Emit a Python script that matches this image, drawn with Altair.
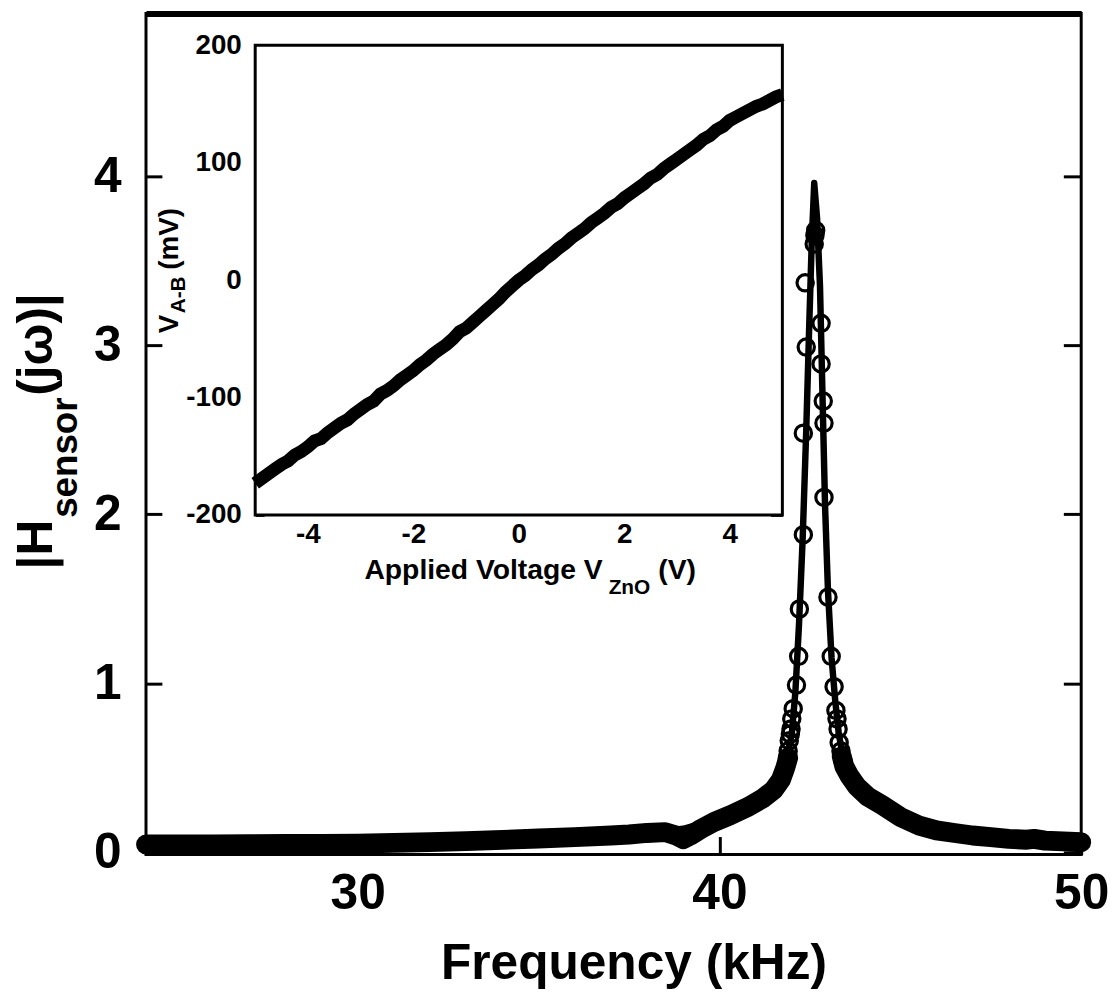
import altair as alt
import pandas as pd

# ---------------- data ----------------
# dense measured band, left of the resonance
band_left_f = [24.15, 25, 26, 27, 28, 29, 30, 31, 32, 33, 34, 35, 36, 37, 37.5,
               38.0, 38.5, 38.8, 39.0, 39.2, 39.5, 39.85, 40.3, 40.8, 41.2, 41.5,
               41.7, 41.82, 41.9]
band_left_h = [0.047, 0.047, 0.047, 0.048, 0.05, 0.05, 0.052, 0.056, 0.061, 0.067,
               0.074, 0.082, 0.09, 0.1, 0.106, 0.115, 0.12, 0.1, 0.078, 0.1, 0.14,
               0.18, 0.22, 0.27, 0.32, 0.37, 0.43, 0.5, 0.56]
# dense measured band, right of the resonance
band_right_f = [43.38, 43.45, 43.6, 43.8, 44.1, 44.5, 45.0, 45.5, 46.0, 46.5,
                47.0, 47.5, 48.0, 48.5, 48.7, 49.0, 49.5, 50.0]
band_right_h = [0.57, 0.51, 0.45, 0.39, 0.33, 0.28, 0.21, 0.16, 0.13, 0.115,
                0.1, 0.09, 0.08, 0.075, 0.08, 0.07, 0.065, 0.06]
# fitted curve
fit_f = [24.15, 26, 28, 30, 32, 34, 36, 38, 39, 40, 40.5, 41.0, 41.5, 41.8, 42.0,
         42.1, 42.2, 42.3, 42.4, 42.48, 42.55, 42.62, 42.7, 42.78, 42.86, 42.92,
         43.0, 43.1, 43.2, 43.3, 43.45, 43.7, 44.0, 44.5, 45, 46, 47, 48, 49, 50]
fit_h = [0.047, 0.047, 0.05, 0.052, 0.06, 0.074, 0.09, 0.115, 0.14, 0.2, 0.24, 0.3,
         0.38, 0.5, 0.7, 0.95, 1.35, 1.85, 2.5, 3.1, 3.6, 3.96, 3.75, 3.35, 2.6,
         2.05, 1.55, 1.15, 0.9, 0.7, 0.53, 0.42, 0.34, 0.27, 0.21, 0.13, 0.1,
         0.08, 0.068, 0.06]
# open-circle measurements near the peak
circ_f = [42.64, 42.62, 42.66, 42.37, 42.81, 42.40, 42.81, 42.87, 42.89, 42.32,
          42.89, 42.32, 43.00, 42.21, 43.09, 42.19, 42.13, 43.17, 43.22, 42.04,
          42.0, 41.98, 41.96, 41.93, 41.90, 41.88, 43.25, 43.28, 43.31, 43.36,
          43.42]
circ_h = [3.65, 3.6, 3.68, 3.37, 3.13, 2.99, 2.89, 2.67, 2.54, 2.48,
          2.10, 1.88, 1.51, 1.44, 1.16, 1.16, 0.99, 0.98, 0.84, 0.85,
          0.79, 0.73, 0.7, 0.66, 0.6, 0.56, 0.79, 0.73, 0.65, 0.6,
          0.54]

# inset: V_A-B (mV) against applied voltage (V)
inset_v = [-5.0, -4.875, -4.75, -4.625, -4.5, -4.375, -4.25, -4.125, -4.0, -3.875,
           -3.75, -3.625, -3.5, -3.375, -3.25, -3.125, -3.0, -2.875, -2.75, -2.625,
           -2.5, -2.375, -2.25, -2.125, -2.0, -1.875, -1.75, -1.625, -1.5, -1.375,
           -1.25, -1.125, -1.0, -0.875, -0.75, -0.625, -0.5, -0.375, -0.25, -0.125,
           0.0, 0.125, 0.25, 0.375, 0.5, 0.625, 0.75, 0.875, 1.0, 1.125,
           1.25, 1.375, 1.5, 1.625, 1.75, 1.875, 2.0, 2.125, 2.25, 2.375,
           2.5, 2.625, 2.75, 2.875, 3.0, 3.125, 3.25, 3.375, 3.5, 3.625,
           3.75, 3.875, 4.0, 4.125, 4.25, 4.375, 4.5, 4.625, 4.75, 4.875, 5.0]
inset_mv = [-173, -169, -165, -161, -157, -154, -149, -146, -142, -137,
            -135, -130, -126, -122, -119, -114, -110, -106, -103, -97,
            -94, -90, -85, -81, -77, -72, -68, -63, -59, -55,
            -50, -44, -41, -36, -31, -26, -21, -16, -10, -5,
            0, 4, 9, 13, 18, 22, 27, 31, 36, 40,
            44, 49, 53, 57, 62, 65, 70, 74, 78, 82,
            87, 90, 95, 99, 103, 107, 111, 115, 120, 123,
            128, 131, 136, 139, 142, 145, 148, 150, 153, 156, 158]

x_ticks = [30, 40, 50]
y_ticks = [0, 1, 2, 3, 4]
inset_x_ticks = [-4, -2, 0, 2, 4]
inset_y_ticks = [-200, -100, 0, 100, 200]

x_title = "Frequency (kHz)"
y_title_parts = ["|H", "sensor", "(jω)|"]
inset_x_title_parts = ["Applied Voltage V", "ZnO", "(V)"]
inset_y_title_parts = ["V", "A-B", "(mV)"]

# ---------------- layout ----------------
W, H = 942, 847
FONT = "Liberation Sans"

band_df = pd.DataFrame({
    "f": band_left_f + band_right_f,
    "h": band_left_h + band_right_h,
    "seg": ["L"] * len(band_left_f) + ["R"] * len(band_right_f),
})
fit_df = pd.DataFrame({"f": fit_f, "h": fit_h})
circ_df = pd.DataFrame({"f": circ_f, "h": circ_h})
inset_df = pd.DataFrame({"v": inset_v, "mv": inset_mv})
frame_df = pd.DataFrame({"v0": [-5], "v1": [5], "m0": [-200], "m1": [200]})

xs = alt.Scale(domain=[24.15, 50], nice=False, zero=False)
ys = alt.Scale(domain=[-0.012, 4.963], nice=False, zero=False)

lab = dict(labelFont=FONT, labelFontWeight="bold", labelColor="black",
           tickColor="black", grid=False, title=None, domain=False)

band = alt.Chart(band_df).mark_line(
    color="black", strokeWidth=20, strokeCap="round", strokeJoin="round"
).encode(
    x=alt.X("f:Q", scale=xs, axis=alt.Axis(
        orient="bottom", offset=-18, tickSize=18, tickWidth=3, values=x_ticks,
        labelFontSize=50, labelPadding=14, labelFlush=False, **lab)),
    y=alt.Y("h:Q", scale=ys, axis=alt.Axis(
        orient="left", offset=-16, tickSize=16, tickWidth=3, values=y_ticks,
        labelFontSize=50, labelPadding=25, **lab)),
    detail="seg:N",
)

fit = alt.Chart(fit_df).mark_line(
    color="black", strokeWidth=6.5, strokeJoin="round", strokeCap="round"
).encode(
    x=alt.X("f:Q", scale=xs, axis=alt.Axis(
        orient="top", ticks=False, labels=False, domain=True, domainWidth=6,
        domainColor="black", grid=False, title=None)),
    y=alt.Y("h:Q", scale=ys, axis=alt.Axis(
        orient="right", offset=-18, tickSize=18, tickWidth=3, values=y_ticks,
        labels=False, domain=False, tickColor="black", grid=False, title=None)),
)

circles = alt.Chart(circ_df).mark_point(
    shape="circle", filled=False, size=270, strokeWidth=3.2, color="black", opacity=1
).encode(
    x=alt.X("f:Q", scale=xs, axis=None),
    y=alt.Y("h:Q", scale=ys, axis=None),
)

def txt(s, x, y, size, angle=0, align="left"):
    return alt.Chart(pd.DataFrame({"t": [s]})).mark_text(
        font=FONT, fontWeight="bold", fontSize=size, color="black",
        angle=angle, align=align, baseline="alphabetic"
    ).encode(text="t:N", x=alt.value(x), y=alt.value(y))

titles = [
    txt(x_title, 491.5, 972, 50, align="center"),
    txt(y_title_parts[0], -95, 560, 50, angle=270),
    txt(y_title_parts[1], -69, 508, 37, angle=270),
    txt(y_title_parts[2], -95, 385, 50, angle=270),
    txt(inset_x_title_parts[0], 220, 570, 28.5),
    txt(inset_x_title_parts[1], 466, 585, 21),
    txt(inset_x_title_parts[2], 516, 570, 28.5),
    txt(inset_y_title_parts[0], 32, 322, 28, angle=270),
    txt(inset_y_title_parts[1], 39, 302, 21, angle=270),
    txt(inset_y_title_parts[2], 32, 258, 28, angle=270),
]

main = alt.layer(band, fit, circles, *titles).resolve_axis(x="independent", y="independent")

ixs = alt.Scale(domain=[-5, 5], range=[110, 641], nice=False, zero=False)
iys = alt.Scale(domain=[-200, 200], range=[505, 32], nice=False, zero=False)

frame = alt.Chart(frame_df).mark_rect(
    fill="white", stroke="black", strokeWidth=3
).encode(
    x=alt.X("v0:Q", scale=ixs, axis=alt.Axis(
        orient="top", offset=-40, tickSize=8, tickWidth=3, values=inset_x_ticks,
        labels=False, domain=False, tickColor="black", grid=False, title=None)),
    x2="v1:Q",
    y=alt.Y("m0:Q", scale=iys, axis=alt.Axis(
        orient="right", offset=-313, tickSize=12, tickWidth=3, values=inset_y_ticks,
        labels=False, domain=False, tickColor="black", grid=False, title=None)),
    y2="m1:Q",
)

iline = alt.Chart(inset_df).mark_line(
    color="black", strokeWidth=13, strokeJoin="miter", strokeCap="butt", clip=True
).encode(
    x=alt.X("v:Q", scale=ixs, axis=alt.Axis(
        orient="bottom", offset=-352, tickSize=10, tickWidth=3, values=inset_x_ticks,
        labelFontSize=28, labelPadding=6, labelFlush=False,
        labelExpr="'' + datum.value", **lab)),
    y=alt.Y("mv:Q", scale=iys, axis=alt.Axis(
        orient="left", offset=-119, tickSize=9, tickWidth=3, values=inset_y_ticks,
        labelFontSize=28, labelPadding=14, labelExpr="'' + datum.value", **lab)),
)

inset = alt.layer(frame, iline).resolve_axis(x="independent", y="independent")

chart = alt.layer(main, inset).resolve_scale(
    x="independent", y="independent"
).properties(
    width=W, height=H,
    autosize=alt.AutoSizeParams(type="none"),
    padding={"left": 139, "top": 2, "right": 28, "bottom": 136},
    background="white",
).configure_view(stroke="black", strokeWidth=3)

chart.save("out.html", embed_options={"renderer": "svg", "actions": False})
